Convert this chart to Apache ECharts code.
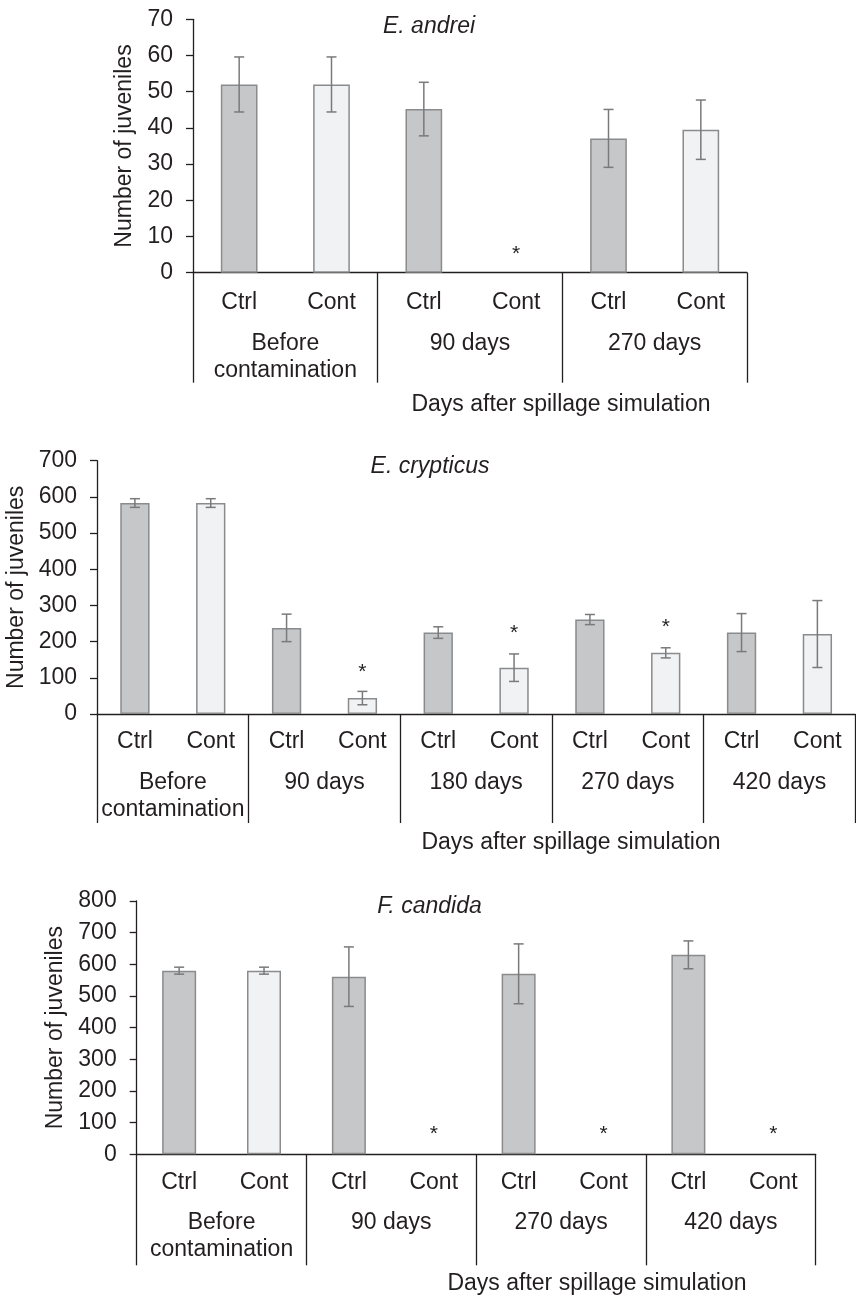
<!DOCTYPE html>
<html><head><meta charset="utf-8">
<script src="https://cdn.jsdelivr.net/npm/echarts@6/dist/echarts.min.js"></script>
<style>html,body{margin:0;padding:0;background:#fff}#c{width:856px;height:1298px}</style>
</head><body><div id="c"></div>
<script>
// ---------- Panel 1: E. andrei ----------
const title1 = 'E. andrei';
const sub1 = ['Ctrl','Cont','Ctrl','Cont','Ctrl','Cont'];
const groups1 = ['Before\ncontamination','90 days','270 days'];
const means1 = [52.0, 52.0, 45.2, 0, 37.1, 39.5];
const errs1  = [7.6, 7.6, 7.4, 0, 8.0, 8.2];
const stars1 = [null, null, null, 6.3, null, null];
const yMax1 = 70, yStep1 = 10;

// ---------- Panel 2: E. crypticus ----------
const title2 = 'E. crypticus';
const sub2 = ['Ctrl','Cont','Ctrl','Cont','Ctrl','Cont','Ctrl','Cont','Ctrl','Cont'];
const groups2 = ['Before\ncontamination','90 days','180 days','270 days','420 days'];
const means2 = [583, 583, 238, 44, 225, 128, 261, 169, 225, 221];
const errs2  = [12, 12, 38, 18.5, 16, 38, 14, 14, 52.5, 92.5];
const stars2 = [null, null, null, 126, null, 235, null, 250, null, null];
const yMax2 = 700, yStep2 = 100;

// ---------- Panel 3: F. candida ----------
const title3 = 'F. candida';
const sub3 = ['Ctrl','Cont','Ctrl','Cont','Ctrl','Cont','Ctrl','Cont'];
const groups3 = ['Before\ncontamination','90 days','270 days','420 days'];
const means3 = [580, 580, 561, 0, 570, 0, 630, 0];
const errs3  = [11, 11, 94, 0, 94.5, 0, 44, 0];
const stars3 = [null, null, null, 75, null, 75, null, 75];
const yMax3 = 800, yStep3 = 100;

const xTitle = 'Days after spillage simulation';
const yTitle = 'Number of juveniles';

// ---------- styling / layout ----------
const FONT = '"Liberation Sans", Arial, Helvetica, sans-serif';
const TXT = '#231f20';
const AX = '#231f20';
const CTRL_FILL = '#c6c7c9', CONT_FILL = '#f1f2f4', BAR_EDGE = '#8a8b8d';
const ERR = '#7a7a7a';

const panels = [
  {title: title1, sub: sub1, groups: groups1, means: means1, errs: errs1, stars: stars1, yMax: yMax1, yStep: yStep1,
   grid: {left: 193, top: 19.3, width: 554, height: 253.4}, subMargin: 16, grpMargin: 57, tickLen: 110, nameGap: 49.5,
   titlePos: [429, 27], xTitlePos: [561, 405], barWidth: 36.7},
  {title: title2, sub: sub2, groups: groups2, means: means2, errs: errs2, stars: stars2, yMax: yMax2, yStep: yStep2,
   grid: {left: 97, top: 460.7, width: 758.3, height: 253.3}, subMargin: 14, grpMargin: 55.5, tickLen: 109, nameGap: 61,
   titlePos: [430, 467], xTitlePos: [571, 843], barWidth: 29.3},
  {title: title3, sub: sub3, groups: groups3, means: means3, errs: errs3, stars: stars3, yMax: yMax3, yStep: yStep3,
   grid: {left: 136.7, top: 901, width: 679, height: 253.3}, subMargin: 15, grpMargin: 55, tickLen: 111, nameGap: 60.5,
   titlePos: [429.5, 907], xTitlePos: [597, 1284], barWidth: 34}
];

const grid = [], xAxis = [], yAxis = [], series = [], graphic = [];

panels.forEach((p, g) => {
  grid.push(Object.assign({outerBoundsMode: 'none', containLabel: false}, p.grid));
  // sub-category axis (Ctrl / Cont)
  xAxis.push({
    type: 'category', gridIndex: g, position: 'bottom', data: p.sub,
    axisLine: {show: true, onZero: true, lineStyle: {color: AX, width: 1.3}},
    axisTick: {show: false},
    axisLabel: {interval: 0, margin: p.subMargin, fontFamily: FONT, fontSize: 23, lineHeight: 27, color: TXT},
    splitLine: {show: false}
  });
  // group axis (time points) with separator ticks
  xAxis.push({
    type: 'category', gridIndex: g, position: 'bottom', data: p.groups,
    axisLine: {show: false},
    axisTick: {show: true, interval: 0, length: p.tickLen, lineStyle: {color: AX, width: 1.3}},
    axisLabel: {interval: 0, margin: p.grpMargin, fontFamily: FONT, fontSize: 23, lineHeight: 27, color: TXT},
    splitLine: {show: false}
  });
  yAxis.push({
    type: 'value', gridIndex: g, min: 0, max: p.yMax, interval: p.yStep,
    name: yTitle, nameLocation: 'middle', nameGap: p.nameGap, nameRotate: 90,
    nameTextStyle: {fontFamily: FONT, fontSize: 23, color: TXT},
    axisLine: {show: true, lineStyle: {color: AX, width: 1.3}},
    axisTick: {show: true, length: 7, lineStyle: {color: AX, width: 1.3}},
    axisLabel: {margin: 20, fontFamily: FONT, fontSize: 23, color: TXT},
    splitLine: {show: false}
  });
  const xi = g * 2;
  series.push({
    type: 'bar', xAxisIndex: xi, yAxisIndex: g, barWidth: p.barWidth, z: 2,
    data: p.means.map((m, i) => ({
      value: m,
      itemStyle: {
        color: p.sub[i] === 'Ctrl' ? CTRL_FILL : CONT_FILL,
        borderColor: BAR_EDGE, borderWidth: m > 0 ? 1.5 : 0
      }
    })),
    silent: true, animation: false
  });
  series.push({
    type: 'custom', xAxisIndex: xi, yAxisIndex: g, z: 5, silent: true, animation: false,
    data: p.means.map((m, i) => [i, m, p.errs[i]]),
    encode: {x: 0, y: 1},
    renderItem: (params, api) => {
      const x = api.value(0), m = api.value(1), e = api.value(2);
      if (!e) return null;
      const t = api.coord([x, m + e]), b = api.coord([x, m - e]);
      const hw = 5, st = {stroke: ERR, lineWidth: 1.5};
      return {type: 'group', children: [
        {type: 'line', shape: {x1: t[0], y1: t[1], x2: b[0], y2: b[1]}, style: st},
        {type: 'line', shape: {x1: t[0] - hw, y1: t[1], x2: t[0] + hw, y2: t[1]}, style: st},
        {type: 'line', shape: {x1: b[0] - hw, y1: b[1], x2: b[0] + hw, y2: b[1]}, style: st}
      ]};
    }
  });
  series.push({
    type: 'custom', xAxisIndex: xi, yAxisIndex: g, z: 6, silent: true, animation: false,
    data: p.stars.map((s, i) => [i, s == null ? '-' : s]).filter(d => d[1] !== '-'),
    encode: {x: 0, y: 1},
    renderItem: (params, api) => {
      const c = api.coord([api.value(0), api.value(1)]);
      return {type: 'text', x: c[0], y: c[1] + 4,
        style: {text: '*', fontSize: 21, fontFamily: FONT, fill: TXT, align: 'center', verticalAlign: 'middle'}};
    }
  });
  graphic.push({type: 'text', x: p.titlePos[0], y: p.titlePos[1], silent: true,
    style: {text: p.title, fontSize: 23, fontStyle: 'italic', fontFamily: FONT, fill: TXT, align: 'center', verticalAlign: 'middle'}});
  graphic.push({type: 'text', x: p.xTitlePos[0], y: p.xTitlePos[1], silent: true,
    style: {text: xTitle, fontSize: 23, fontFamily: FONT, fill: TXT, align: 'center', verticalAlign: 'middle'}});
});

const chart = echarts.init(document.getElementById('c'), null, {renderer: 'canvas'});
chart.setOption({
  animation: false,
  backgroundColor: '#ffffff',
  grid, xAxis, yAxis, series, graphic
});
</script>
</body></html>
